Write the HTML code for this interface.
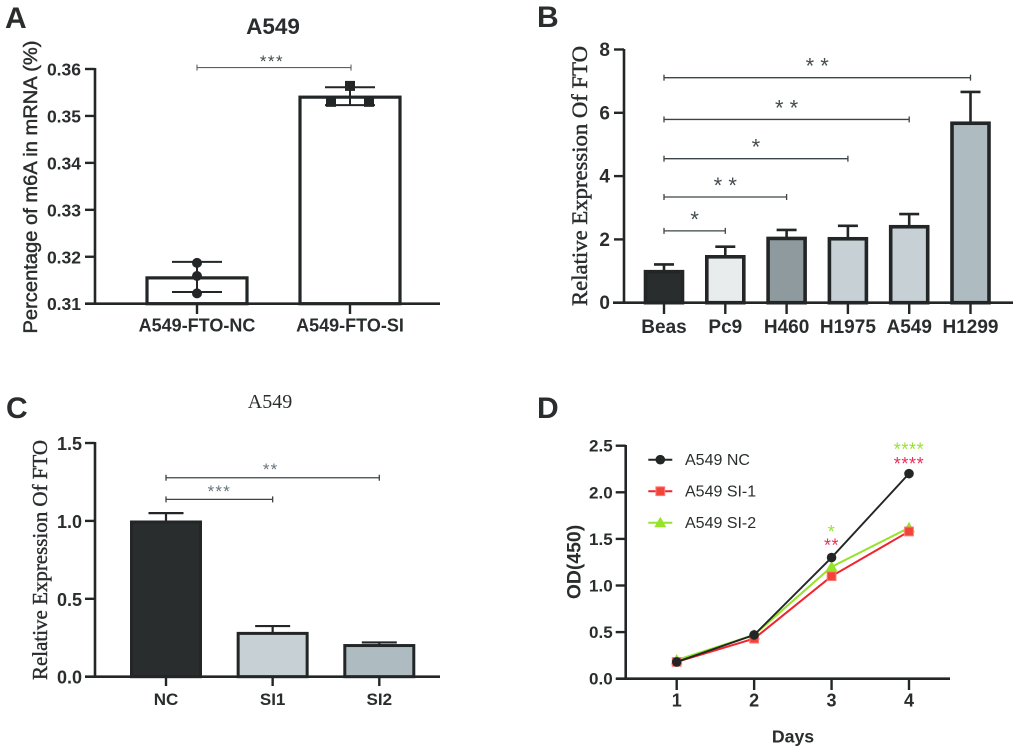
<!DOCTYPE html>
<html lang="en">
<head>
<meta charset="utf-8">
<title>FTO expression figure</title>
<style>
html,body{margin:0;padding:0;background:#fff;width:1020px;height:754px;overflow:hidden}
svg{display:block}
text{font-family:"Liberation Sans",sans-serif;fill:#2a2d2e}
.serif{font-family:"Liberation Serif",serif}
</style>
</head>
<body>
<svg id="figure" xmlns="http://www.w3.org/2000/svg" width="1020" height="754" viewBox="0 0 1020 754"></svg>
<script>
/* Panel A data */
const aCategories = ['A549-FTO-NC', 'A549-FTO-SI'];
const aMeans = [0.3155, 0.354];
const aErrHigh = [0.3189, 0.3561];
const aErrLow = [0.3125, 0.3523];
const aPoints = [[0.3187, 0.3159, 0.3122], [0.3564, 0.353, 0.353]];
const aTicks = [0.31, 0.32, 0.33, 0.34, 0.35, 0.36];

/* Panel B data */
const bCategories = ['Beas', 'Pc9', 'H460', 'H1975', 'A549', 'H1299'];
const bMeans = [0.98, 1.45, 2.03, 2.02, 2.4, 5.67];
const bErrHigh = [1.21, 1.77, 2.3, 2.43, 2.8, 6.66];
const bFills = ['#2a2d2e', '#e8eced', '#8f9a9f', '#c6d0d5', '#c6d0d5', '#aebbc0'];
const bTicks = [0, 2, 4, 6, 8];
const bSigLevels = [2.27, 3.34, 4.55, 5.79, 7.11];
const bSigTargets = [1, 2, 3, 4, 5];
const bSigLabels = ['*', '* *', '*', '* *', '* *'];

/* Panel C data */
const cCategories = ['NC', 'SI1', 'SI2'];
const cMeans = [0.993, 0.278, 0.2];
const cErrHigh = [1.05, 0.325, 0.22];
const cFills = ['#2a2d2e', '#c6d0d5', '#aebbc0'];
const cTicks = [0, 0.5, 1, 1.5];
const cSigLevels = [1.138, 1.277];
const cSigTargets = [1, 2];
const cSigLabels = ['***', '**'];

/* Panel D data */
const dDays = [1, 2, 3, 4];
const dNC = [0.18, 0.47, 1.3, 2.2];
const dSI1 = [0.18, 0.43, 1.1, 1.58];
const dSI2 = [0.2, 0.47, 1.2, 1.62];
const dTicks = [0, 0.5, 1, 1.5, 2, 2.5];
const dSeriesNames = ['A549 NC', 'A549 SI-1', 'A549 SI-2'];
const dSigDays = [3, 3, 4, 4];
const dSigLevels = [1.617, 1.47, 2.5, 2.345];
const dSigLabels = ['*', '**', '****', '****'];
const dSigKinds = ['green', 'red', 'green', 'red'];

const INK = '#232627';
const RED = '#f0242c';
const GREEN = '#97e32a';
const root = document.getElementById('figure');

function make(parent, tag, name, attrs, content) {
  const el = document.createElementNS('http://www.w3.org/2000/svg', tag);
  for (const k in attrs) el.setAttribute(k, attrs[k]);
  
  
  if (content !== undefined) el.textContent = content;
  parent.appendChild(el);
  return el;
}
function linear(d0, d1, r0, r1) {
  return v => r0 + (v - d0) * (r1 - r0) / (d1 - d0);
}
function seg(p, name, x1, y1, x2, y2, stroke, w) {
  return make(p, 'line', name, {x1, y1, x2, y2, stroke, 'stroke-width': w});
}
function label(p, name, x, y, str, o) {
  const attrs = {x, y, 'font-size': o.size, 'text-anchor': o.anchor || 'middle'};
  if (o.weight) attrs['font-weight'] = o.weight;
  if (o.cls) attrs['class'] = o.cls;
  if (o.spacing) attrs['letter-spacing'] = o.spacing;
  if (o.fill) attrs['style'] = 'fill:' + o.fill;
  if (o.len) { attrs.textLength = o.len; attrs.lengthAdjust = 'spacingAndGlyphs'; }
  if (o.thick) attrs['style'] = (attrs['style'] ? attrs['style'] + ';' : '') + 'stroke:#2a2d2e;stroke-width:' + o.thick;
  return make(p, 'text', name, attrs, str);
}
function vtitle(p, name, x, cy, str, o) {
  const t = label(p, name, x, cy, str, o);
  t.setAttribute('transform', 'rotate(-90 ' + x + ' ' + cy + ')');
  return t;
}
function axes(p, x0, y0, xEnd, xLeft, yTop) {
  seg(p, 'y-axis-line', x0, yTop, x0, y0 + 1, INK, 2.6);
  seg(p, 'x-axis-line', xLeft, y0, xEnd, y0, INK, 2.6);
}
function yTicks(p, ticks, y, x0, fmt, labelX, size, off) {
  ticks.forEach(t => {
    seg(p, 'y-tick', x0 - 10, y(t), x0, y(t), INK, 2.4);
    label(p, 'y-tick-label', labelX, y(t) + off, fmt(t), {size, weight: 'bold', anchor: 'end'});
  });
}
function bracket(p, x1, x2, yy, color, w) {
  const g = make(p, 'g', 'significance-bracket', {});
  seg(g, 'bracket-line', x1, yy, x2, yy, color, w);
  seg(g, 'bracket-end', x1, yy - 3, x1, yy + 3, color, w);
  seg(g, 'bracket-end', x2, yy - 3, x2, yy + 3, color, w);
}

/* ---------- Panel A ---------- */
(function () {
  const p = make(root, 'g', 'panel-a', {});
  const y = linear(0.31, 0.36, 303.7, 69);
  const x = linear(0, 1, 197, 350);
  label(p, 'panel-a-letter', 5, 28, 'A', {size: 30, weight: 'bold', anchor: 'start'});
  label(p, 'chart-title', 273, 34, 'A549', {size: 22.5, weight: 'bold'});
  vtitle(p, 'y-axis-title', 37, 187, 'Percentage of m6A in mRNA (%)', {size: 19, len: 293, thick: 0.45});
  aMeans.forEach((m, i) => {
    make(p, 'rect', 'bar-' + aCategories[i].toLowerCase(), {x: x(i) - 50, y: y(m), width: 100, height: y(0.31) - y(m), fill: '#fff', stroke: INK, 'stroke-width': 3.2});
  });
  axes(p, 95, 303.7, 440, 85, 68);
  yTicks(p, aTicks, y, 95, v => v.toFixed(2), 81, 17.5, 6.5);
  aCategories.forEach((c, i) => {
    seg(p, 'x-tick', x(i), 303.7, x(i), 314, INK, 2.4);
    label(p, 'x-tick-label', x(i), 331.5, c, {size: 18, weight: 'bold'});
    seg(p, 'error-stem', x(i), y(aErrHigh[i]), x(i), y(aErrLow[i]), INK, 2);
    seg(p, 'error-cap-high', x(i) - 25, y(aErrHigh[i]), x(i) + 25, y(aErrHigh[i]), INK, 2);
    seg(p, 'error-cap-low', x(i) - 25, y(aErrLow[i]), x(i) + 25, y(aErrLow[i]), INK, 2);
  });
  aPoints[0].forEach(v => make(p, 'circle', 'data-point-nc', {cx: x(0), cy: y(v), r: 5, fill: INK}));
  const jitter = [0, -19, 19];
  aPoints[1].forEach((v, k) => make(p, 'rect', 'data-point-si', {x: x(1) + jitter[k] - 5, y: y(v) - 5, width: 10, height: 10, fill: INK}));
  bracket(p, x(0), x(1) + 1, y(0.3603), '#55626a', 1.1);
  label(p, 'significance-stars', 272, 67, '***', {size: 17, spacing: 1.5, fill: '#444c50'});
})();

/* ---------- Panel B ---------- */
(function () {
  const p = make(root, 'g', 'panel-b', {});
  const y = linear(0, 8, 302.7, 49.5);
  const x = linear(0, 5, 664, 970.5);
  label(p, 'panel-b-letter', 537, 27, 'B', {size: 30, weight: 'bold', anchor: 'start'});
  vtitle(p, 'y-axis-title', 587, 176, 'Relative Expression Of FTO', {size: 22, cls: 'serif', len: 260, thick: 0.45});
  bMeans.forEach((m, i) => {
    seg(p, 'error-stem', x(i), y(bErrHigh[i]), x(i), y(m), INK, 2.6);
    seg(p, 'error-cap', x(i) - 10, y(bErrHigh[i]), x(i) + 10, y(bErrHigh[i]), INK, 2.6);
    make(p, 'rect', 'bar-' + bCategories[i].toLowerCase(), {x: x(i) - 18.5, y: y(m), width: 37, height: y(0) - y(m), fill: bFills[i], stroke: INK, 'stroke-width': 3.6});
  });
  axes(p, 624, 302.7, 1013, 613, 49);
  yTicks(p, bTicks, y, 624, v => String(v), 610, 19, 6.5);
  bCategories.forEach((c, i) => {
    seg(p, 'x-tick', x(i), 302.7, x(i), 314, INK, 2.4);
    label(p, 'x-tick-label', x(i), 333, c, {size: 19, weight: 'bold'});
  });
  bSigLevels.forEach((lv, k) => {
    const x2 = x(bSigTargets[k]);
    bracket(p, x(0), x2, y(lv), '#3c4447', 1.3);
    label(p, 'significance-stars', (x(0) + x2) / 2, y(lv) - 4, bSigLabels[k], {size: 22, fill: '#444c50'});
  });
})();

/* ---------- Panel C ---------- */
(function () {
  const p = make(root, 'g', 'panel-c', {});
  const y = linear(0, 1.5, 676.7, 443);
  const x = linear(0, 2, 166, 379.3);
  label(p, 'panel-c-letter', 6, 418, 'C', {size: 30, weight: 'bold', anchor: 'start'});
  label(p, 'chart-title', 270, 408, 'A549', {size: 20, cls: 'serif'});
  vtitle(p, 'y-axis-title', 47, 560, 'Relative Expression Of FTO', {size: 21, cls: 'serif', len: 240, thick: 0.4});
  cMeans.forEach((m, i) => {
    seg(p, 'error-stem', x(i), y(cErrHigh[i]), x(i), y(m), INK, 2.2);
    seg(p, 'error-cap', x(i) - 17.5, y(cErrHigh[i]), x(i) + 17.5, y(cErrHigh[i]), INK, 2.2);
    make(p, 'rect', 'bar-' + cCategories[i].toLowerCase(), {x: x(i) - 34.5, y: y(m), width: 69, height: y(0) - y(m), fill: cFills[i], stroke: INK, 'stroke-width': 3});
  });
  axes(p, 95, 676.7, 440, 85, 442);
  yTicks(p, cTicks, y, 95, v => v.toFixed(1), 82, 18, 7);
  cCategories.forEach((c, i) => {
    seg(p, 'x-tick', x(i), 676.7, x(i), 686, INK, 2.4);
    label(p, 'x-tick-label', x(i), 705, c, {size: 17, weight: 'bold'});
  });
  cSigLevels.forEach((lv, k) => {
    const x2 = x(cSigTargets[k]);
    bracket(p, x(0), x2, y(lv), '#3c4447', 1.3);
    label(p, 'significance-stars', (x(0) + x2) / 2 + (k ? -2 : 0), y(lv) - 2.5, cSigLabels[k], {size: 17, spacing: 1.2, fill: '#68757b'});
  });
})();

/* ---------- Panel D ---------- */
(function () {
  const p = make(root, 'g', 'panel-d', {});
  const y = linear(0, 2.5, 678.7, 445.7);
  const x = linear(1, 4, 676.7, 909);
  label(p, 'panel-d-letter', 537, 418, 'D', {size: 30, weight: 'bold', anchor: 'start'});
  vtitle(p, 'y-axis-title', 580.7, 562, 'OD(450)', {size: 19.4, weight: 'bold'});
  axes(p, 625.7, 678.7, 950, 616, 445);
  yTicks(p, dTicks, y, 625.7, v => v.toFixed(1), 612.7, 17, 6);
  dDays.forEach(d => {
    seg(p, 'x-tick', x(d), 678.7, x(d), 690, INK, 2.4);
    label(p, 'x-tick-label', x(d), 706.7, String(d), {size: 18, weight: 'bold'});
  });
  label(p, 'x-axis-title', 793, 742.7, 'Days', {size: 17.7, weight: 'bold'});

  function marker(g, kind, cx, cy) {
    if (kind === 'circle') make(g, 'circle', 'point-nc', {cx, cy, r: 4.8, fill: INK});
    if (kind === 'square') make(g, 'rect', 'point-si-1', {x: cx - 4.4, y: cy - 4.4, width: 8.8, height: 8.8, fill: '#f2453a', stroke: '#ff7a7a', 'stroke-width': 1});
    if (kind === 'tri') make(g, 'polygon', 'point-si-2', {points: (cx - 6) + ',' + (cy + 4.5) + ' ' + (cx + 6) + ',' + (cy + 4.5) + ' ' + cx + ',' + (cy - 6), fill: GREEN});
  }
  function series(name, vals, color, w, kind) {
    const g = make(p, 'g', name, {});
    make(g, 'polyline', name + '-line', {points: vals.map((v, i) => x(dDays[i]) + ',' + y(v)).join(' '), fill: 'none', stroke: color, 'stroke-width': w});
    vals.forEach((v, i) => marker(g, kind, x(dDays[i]), y(v)));
  }
  series('series-si-2', dSI2, GREEN, 2, 'tri');
  series('series-si-1', dSI1, RED, 2, 'square');
  series('series-nc', dNC, INK, 1.9, 'circle');

  const kinds = ['circle', 'square', 'tri'];
  const colors = [INK, RED, GREEN];
  dSeriesNames.forEach((n, i) => {
    const ly = 459.7 + i * 31.5;
    const g = make(p, 'g', 'legend-entry', {});
    seg(g, 'legend-line', 648.3, ly, 672.3, ly, colors[i], 2);
    marker(g, kinds[i], 660.3, ly);
    label(g, 'legend-label', 685, ly + 5.5, n, {size: 16, anchor: 'start', fill: '#2a2d2e'});
  });

  dSigLevels.forEach((lv, k) => {
    label(p, 'significance-stars-' + dSigKinds[k], x(dSigDays[k]), y(lv) + 10, dSigLabels[k], {size: 18, spacing: 0.6, fill: dSigKinds[k] === 'green' ? GREEN : '#ea2e5c'});
  });
})();
</script>
</body>
</html>
